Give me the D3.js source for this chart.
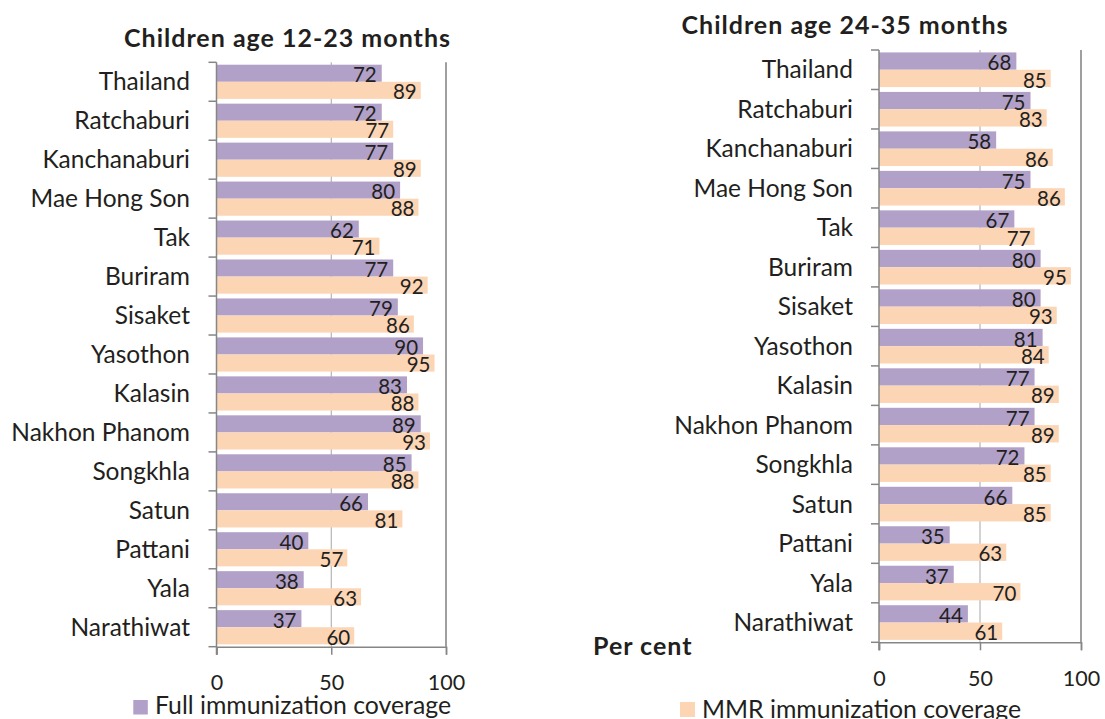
<!DOCTYPE html>
<html>
<head>
<meta charset="utf-8">
<script src="https://cdn.jsdelivr.net/npm/d3@7"></script>
<style>
  html, body { margin: 0; padding: 0; background: #ffffff; }
  svg { display: block; font-family: Lato, "Open Sans", sans-serif; }
</style>
</head>
<body>
<svg id="chart" width="1105" height="719"></svg>
<script>
// ---- data ----
const categories = ["Thailand", "Ratchaburi", "Kanchanaburi", "Mae Hong Son", "Tak", "Buriram", "Sisaket",
  "Yasothon", "Kalasin", "Nakhon Phanom", "Songkhla", "Satun", "Pattani", "Yala", "Narathiwat"];
const full1223 = [72, 72, 77, 80, 62, 77, 79, 90, 83, 89, 85, 66, 40, 38, 37];
const mmr1223  = [89, 77, 89, 88, 71, 92, 86, 95, 88, 93, 88, 81, 57, 63, 60];
const full2435 = [68, 75, 58, 75, 67, 80, 80, 81, 77, 77, 72, 66, 35, 37, 44];
// bar lengths as drawn in the reference
const mmr2435  = [85, 83, 86, 92, 77, 95, 88, 84, 89, 89, 85, 85, 63, 70, 61];
// data labels as printed in the reference
const mmr2435Labels = [85, 83, 86, 86, 77, 95, 93, 84, 89, 89, 85, 85, 63, 70, 61];
const xTicks = [0, 50, 100];
const seriesNames = ["Full immunization coverage", "MMR immunization coverage"];
const titles = ["Children age 12-23 months", "Children age 24-35 months"];
const unitLabel = "Per cent";

// ---- style ----
const colFull = "#B1A0C7";
const colMMR = "#FCD5B5";
const textCol = "#231F20";
const axisCol = "#868686";

const svg = d3.select("#chart");

const panels = [
  { title: titles[0], full: full1223, mmr: mmr1223, mmrLabels: mmr1223,
    x0: 216.5, x1: 446, y0: 62.3, y1: 646.7, titleX: 287.5, titleY: 47, catRight: 190 },
  { title: titles[1], full: full2435, mmr: mmr2435, mmrLabels: mmr2435Labels,
    x0: 879, x1: 1081, y0: 50, y1: 642.3, titleX: 845, titleY: 34, catRight: 853 }
];

panels.forEach(p => {
  const g = svg.append("g");
  const x = d3.scaleLinear().domain([0, 100]).range([p.x0, p.x1]);
  const y = d3.scaleBand().domain(categories).range([p.y0, p.y1]).padding(0);
  const sub = d3.scaleBand().domain(["full", "mmr"]).range([0, y.bandwidth()])
    .paddingInner(0).paddingOuter(0.14);

  // gridline at 50
  g.selectAll("line.grid").data(xTicks.filter(t => t > 0 && t < 100)).join("line")
    .attr("class", "grid")
    .attr("x1", d => x(d)).attr("x2", d => x(d))
    .attr("y1", p.y0).attr("y2", p.y1)
    .attr("stroke", "#A6A6A6").attr("stroke-width", 1);

  const rows = categories.map((c, i) => ({ c, full: p.full[i], mmr: p.mmr[i], mmrLabel: p.mmrLabels[i] }));

  // bars
  g.selectAll("rect.full").data(rows).join("rect")
    .attr("x", x(0)).attr("y", d => y(d.c) + sub("full"))
    .attr("width", d => x(d.full) - x(0)).attr("height", sub.bandwidth())
    .attr("fill", colFull);
  g.selectAll("rect.mmr").data(rows).join("rect")
    .attr("x", x(0)).attr("y", d => y(d.c) + sub("mmr"))
    .attr("width", d => x(d.mmr) - x(0)).attr("height", sub.bandwidth())
    .attr("fill", colMMR);

  // value labels
  g.selectAll("text.vf").data(rows).join("text")
    .attr("x", d => x(d.full) - 5).attr("y", d => y(d.c) + sub("full") + sub.bandwidth() + 0.5)
    .attr("text-anchor", "end").attr("font-size", 20.5).attr("fill", textCol)
    .text(d => d.full);
  g.selectAll("text.vm").data(rows).join("text")
    .attr("x", d => x(d.mmr) - 4).attr("y", d => y(d.c) + sub("mmr") + sub.bandwidth() + 0.5)
    .attr("text-anchor", "end").attr("font-size", 20.5).attr("fill", textCol)
    .text(d => d.mmrLabel);

  // right border line at 100
  g.append("line")
    .attr("x1", x(100)).attr("x2", x(100)).attr("y1", p.y0).attr("y2", p.y1)
    .attr("stroke", "#7F7F7F").attr("stroke-width", 1.5);

  // left axis with ticks at band boundaries
  g.append("line")
    .attr("x1", x(0)).attr("x2", x(0)).attr("y1", p.y0).attr("y2", p.y1 + 8)
    .attr("stroke", axisCol).attr("stroke-width", 1.5);
  const bounds = categories.map(c => y(c)).concat([p.y1]);
  g.selectAll("line.ytick").data(bounds).join("line")
    .attr("x1", x(0) - 8).attr("x2", x(0)).attr("y1", d => d).attr("y2", d => d)
    .attr("stroke", axisCol).attr("stroke-width", 1.5);

  // category labels
  g.selectAll("text.cat").data(categories).join("text")
    .attr("x", p.catRight).attr("y", d => y(d) + y.bandwidth() / 2)
    .attr("dy", "0.35em").attr("text-anchor", "end")
    .attr("font-size", 24.5).attr("fill", textCol)
    .text(d => d);

  // bottom axis
  const ax = g.append("g").attr("transform", `translate(0,${p.y1})`)
    .call(d3.axisBottom(x).tickValues(xTicks).tickSize(8).tickPadding(20).tickFormat(d3.format("d")));
  ax.select(".domain").attr("stroke", axisCol).attr("stroke-width", 1.5);
  ax.selectAll(".tick line").attr("stroke", axisCol).attr("stroke-width", 1.5);
  ax.selectAll(".tick text").attr("font-size", 21.5).attr("fill", textCol)
    .attr("font-family", "Lato, 'Open Sans', sans-serif");

  // title
  g.append("text").attr("x", p.titleX).attr("y", p.titleY)
    .attr("text-anchor", "middle").attr("font-size", 25).attr("font-weight", "bold")
    .attr("letter-spacing", "1px")
    .attr("fill", textCol).text(p.title);
});

// unit label
svg.append("text").attr("x", 593).attr("y", 655)
  .attr("font-size", 25).attr("font-weight", "bold").attr("letter-spacing", "1px")
  .attr("fill", textCol).text(unitLabel);

// legends
const legends = [
  { name: seriesNames[0], color: colFull, rx: 133.3, ry: 700, size: 14.5, tx: 155, ty: 714 },
  { name: seriesNames[1], color: colMMR, rx: 680, ry: 702, size: 15, tx: 702, ty: 718 }
];
legends.forEach(l => {
  svg.append("rect").attr("x", l.rx).attr("y", l.ry).attr("width", l.size).attr("height", l.size)
    .attr("fill", l.color);
  svg.append("text").attr("x", l.tx).attr("y", l.ty).attr("font-size", 24.8)
    .attr("fill", textCol).text(l.name);
});
</script>
</body>
</html>
